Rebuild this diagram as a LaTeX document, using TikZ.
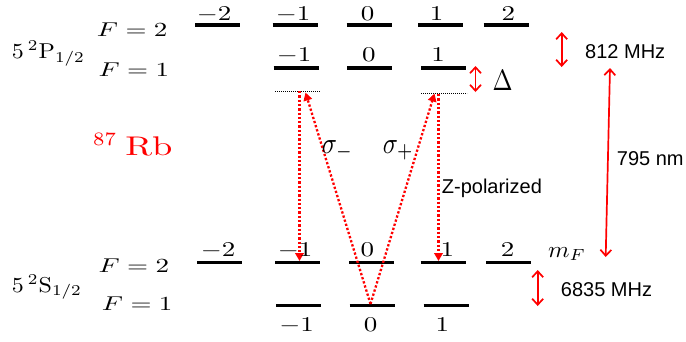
\documentclass[tikz,border=0pt]{standalone}
\usepackage{fontspec}
\setsansfont{Liberation Sans}
\usepackage{graphicx}
\usetikzlibrary{arrows.meta}
\newcommand{\mnum}[1]{\scalebox{2.7}[2.1]{$#1$}}
\newcommand{\flbl}[1]{\scalebox{2.7}[2.0]{$#1$}}
\begin{document}
\begin{tikzpicture}[x=1pt,y=-1pt,
  lvl/.style={line width=3.6pt},
  virt/.style={line width=0.9pt, dash pattern=on 0.9pt off 1.1pt},
  trans/.style={red, line width=2.3pt, dash pattern=on 2.3pt off 2pt, -{Triangle[length=8pt,width=8.5pt]}},
  gaparrow/.style={red, line width=1.7pt, {Straight Barb[length=6pt,width=11pt]}-{Straight Barb[length=6pt,width=11pt]}},
  num/.style={anchor=base, inner sep=0pt},
  lbl/.style={anchor=base west, inner sep=0pt},
  sans/.style={anchor=base west, inner sep=0pt, font=\sffamily\fontsize{20}{24}\selectfont},
]
\path[use as bounding box] (0,0) rectangle (686,341);

% level centres
\coordinate (u2a) at (217.5,25);
\coordinate (u2b) at (295,25);
\coordinate (u2c) at (369,25);
\coordinate (u2d) at (440.5,25);
\coordinate (u2e) at (506,25);
\coordinate (u1b) at (296,68);
\coordinate (u1c) at (369.5,68);
\coordinate (u1d) at (443.5,68);
\coordinate (l2a) at (219.5,262.5);
\coordinate (l2b) at (297.5,262.5);
\coordinate (l2c) at (371.5,262.5);
\coordinate (l2d) at (443,262.5);
\coordinate (l2e) at (508.5,262.5);
\coordinate (l1b) at (298.5,305.5);
\coordinate (l1c) at (372,305.5);
\coordinate (l1d) at (446,305.5);

\foreach \c in {u2a,u2b,u2c,u2d,u2e,u1b,u1c,u1d,l2a,l2b,l2c,l2d,l2e,l1b,l1c,l1d}
  \draw[lvl] ([xshift=-22.5pt]\c) -- ([xshift=22.5pt]\c);

% virtual levels
\coordinate (vl1) at (275,91);
\coordinate (vl2) at (320,91);
\coordinate (vr1) at (421,93.5);
\coordinate (vr2) at (467,93.5);
\draw[virt] (vl1) -- (vl2);
\draw[virt] (vr1) -- (vr2);

% transitions
\coordinate (tLtop) at (299.5,91);
\coordinate (tLbot) at (299.5,261);
\coordinate (tRtop) at (438.5,94);
\coordinate (tRbot) at (438.5,261);
\coordinate (g0) at (370.5,304);
\coordinate (sm) at (305.5,92.5);
\coordinate (sp) at (434.5,93.5);
\draw[trans] (tLtop) -- (tLbot);
\draw[trans] (tRtop) -- (tRbot);
\draw[trans] (g0) -- (sm);
\draw[trans] (g0) -- (sp);

% splitting arrows
\coordinate (dA) at (475.5,66);   \coordinate (dB) at (475.5,92);
\coordinate (hA) at (561.7,32); \coordinate (hB) at (561.7,67);
\coordinate (oA) at (610,68);   \coordinate (oB) at (605.7,257);
\coordinate (gA) at (537.7,270);\coordinate (gB) at (537.7,306);
\draw[gaparrow] (dA) -- (dB);
\draw[gaparrow] (hA) -- (hB);
\draw[gaparrow] (oA) -- (oB);
\draw[gaparrow] (gA) -- (gB);

% m_F labels
\node[num] (n1) at (214,20) {\mnum{-2}};
\node[num] (n2) at (293,20) {\mnum{-1}};
\node[num] (n3) at (367.5,20) {\mnum{0}};
\node[num] (n4) at (436.7,20) {\mnum{1}};
\node[num] (n5) at (508.3,20) {\mnum{2}};
\node[num] (n6) at (294,61.7) {\mnum{-1}};
\node[num] (n7) at (368.8,61.7) {\mnum{0}};
\node[num] (n8) at (438,61.7) {\mnum{1}};
\node[num] (n9) at (218,256.5) {\mnum{-2}};
\node[num] (n10) at (295,256.5) {\mnum{-1}};
\node[num] (n11) at (367.3,256.5) {\mnum{0}};
\node[num] (n12) at (447.3,256.5) {\mnum{1}};
\node[num] (n13) at (507.5,256.5) {\mnum{2}};
\node[num] (n14) at (296.7,331) {\mnum{-1}};
\node[num] (n15) at (370.7,331) {\mnum{0}};
\node[num] (n16) at (442.3,331) {\mnum{1}};
\node[lbl] (mf) at (548,257.3) {\scalebox{2.45}[2.3]{$m_F$}};

% F labels
\node[lbl] (f1) at (96.7,36) {\flbl{F=2}};
\node[lbl] (f2) at (98.3,76.7) {\flbl{F=1}};
\node[lbl] (f3) at (98.3,272.7) {\flbl{F=2}};
\node[lbl] (f4) at (101.7,310) {\flbl{F=1}};

% terms
\node[lbl] (tp) at (11.7,58.3) {\scalebox{2.4}[2.15]{$5\,{}^2\mathrm{P}_{1/2}$}};
\node[lbl] (ts) at (11.7,292) {\scalebox{2.4}[2.15]{$5\,{}^2\mathrm{S}_{1/2}$}};

% Rb
\node[lbl, text=red] (rb) at (93,155) {\scalebox{2.85}[2.7]{$^{87}$}\hspace{8pt}\scalebox{3.65}[2.7]{$\mathrm{Rb}$}};

% sigma labels
\node[lbl] (sgm) at (321.7,153.3) {\scalebox{2.5}[3.0]{$\sigma_-$}};
\node[lbl] (sgp) at (382.7,153.3) {\scalebox{2.5}[3.0]{$\sigma_+$}};
\node[lbl] (dl) at (492.5,90) {\scalebox{2.4}[2.93]{$\Delta$}};

% sans labels
\node[sans] (t812) at (585,58.3) {812 MHz};
\node[sans] (t795) at (616.7,165) {795 nm};
\node[sans] (tz) at (441.7,193.3) {Z-polarized};
\node[sans] (t6835) at (560.7,296.7) {6835 MHz};
\end{tikzpicture}
\end{document}
